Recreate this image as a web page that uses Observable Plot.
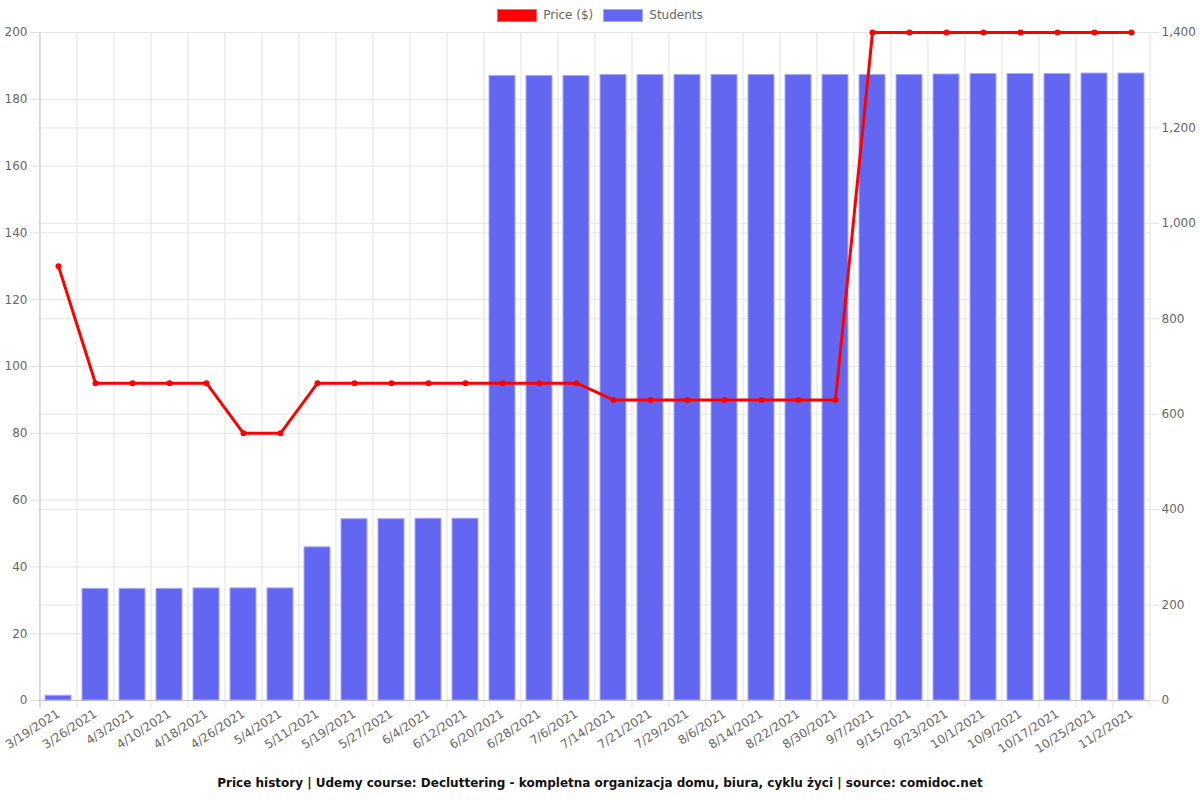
<!DOCTYPE html>
<html><head><meta charset="utf-8">
<script src="https://cdn.jsdelivr.net/npm/d3@7"></script>
<script src="https://cdn.jsdelivr.net/npm/@observablehq/plot@0.6"></script>
<style>
body{margin:0;background:#fff;font-family:"DejaVu Sans",sans-serif;}
#legend{height:24px;display:flex;justify-content:center;align-items:center;font-size:12px;color:#666;padding-top:6px;box-sizing:border-box;}
.item{display:flex;align-items:center;margin:0 5px;}
.box{width:40px;height:13px;margin-right:6px;box-sizing:border-box;}
#caption{height:22px;line-height:22px;text-align:center;font-size:12px;font-weight:bold;color:#111;}
</style></head><body>
<div id="legend"></div>
<div id="chart"></div>
<div id="caption">Price history | Udemy course: Decluttering - kompletna organizacja domu, biura, cyklu życi | source: comidoc.net</div>
<script>
const dates = ["3/19/2021","3/26/2021","4/3/2021","4/10/2021","4/18/2021","4/26/2021","5/4/2021","5/11/2021","5/19/2021","5/27/2021","6/4/2021","6/12/2021","6/20/2021","6/28/2021","7/6/2021","7/14/2021","7/21/2021","7/29/2021","8/6/2021","8/14/2021","8/22/2021","8/30/2021","9/7/2021","9/15/2021","9/23/2021","10/1/2021","10/9/2021","10/17/2021","10/25/2021","11/2/2021"];
const prices = [130,95,95,95,95,80,80,95,95,95,95,95,95,95,95,90,90,90,90,90,90,90,200,200,200,200,200,200,200,200];
const students = [10,234,234,234,235,235,235,321,380,380,381,381,1309,1309,1309,1311,1311,1311,1311,1311,1311,1311,1311,1311,1312,1313,1313,1313,1314,1314];
const leftTicks = [0,20,40,60,80,100,120,140,160,180,200];
const rightTickValues = [0,200,400,600,800,1000,1200,1400];
const seriesNames = ["Price ($)","Students"];
const seriesColors = ["#ff0000","#6366f1"];

const W = 1200, ML = 38, MR = 50, MT = 8, MB = 72, H = 748;
const studentMax = 1400, priceMax = 200;
const toPrice = s => s * priceMax / studentMax;
const data = dates.map((d,i) => ({date:d, price:prices[i], students:students[i]}));
const step = (W - ML - MR) / dates.length;

const legend = document.getElementById("legend");
seriesNames.forEach((n,i) => {
  const it = document.createElement("div"); it.className = "item";
  const b = document.createElement("div"); b.className = "box";
  b.style.background = seriesColors[i];
  b.style.border = "1px solid " + (i === 0 ? "#ff6666" : "#a5a7f7");
  const t = document.createElement("span"); t.textContent = n;
  it.append(b, t); legend.append(it);
});

const chart = Plot.plot({
  width: W, height: H,
  marginLeft: ML, marginRight: MR, marginTop: MT, marginBottom: MB,
  style: {fontFamily: "DejaVu Sans, sans-serif", fontSize: "12px", color: "#666", background: "#fff"},
  x: {type: "band", domain: dates, paddingInner: 0.3, paddingOuter: 0.15},
  y: {domain: [0, priceMax]},
  marks: [
    Plot.gridY(leftTicks, {stroke: "#e6e6e6", strokeOpacity: 1}),
    Plot.gridY(rightTickValues.map(toPrice), {stroke: "#e6e6e6", strokeOpacity: 1}),
    Plot.ruleX(dates, {x: d => d, dx: -step/2, stroke: "#e2e2e2", insetBottom: -8}),
    Plot.ruleX([dates[dates.length-1]], {x: d => d, dx: step/2, stroke: "#e2e2e2", insetBottom: -8}),
    Plot.ruleX([dates[0]], {x: d => d, dx: -step/2, stroke: "#c8c8c8", insetBottom: -8}),
    Plot.ruleY([0], {stroke: "#c0c0c0"}),
    Plot.barY(data, {x: "date", y: d => toPrice(d.students), fill: "#6366f1", stroke: "#a9abf8", strokeWidth: 1}),
    Plot.line(data, {x: "date", y: "price", stroke: "#ff0000", strokeWidth: 3}),
    Plot.dot(data, {x: "date", y: "price", fill: "#ff0000", r: 3}),
    Plot.axisY(leftTicks, {anchor: "left", tickSize: 8, tickPadding: 3, stroke: "#e0e0e0", fill: "#666", label: null, fontSize: 12}),
    Plot.axisY(rightTickValues.map(toPrice), {anchor: "right", tickSize: 8, tickPadding: 3, stroke: "#e0e0e0", fill: "#666", label: null, fontSize: 12,
      tickFormat: v => d3.format(",")(Math.round(v * studentMax / priceMax))}),
    Plot.axisX({tickRotate: -33, tickSize: 0, tickPadding: 12, fill: "#666", label: null, fontSize: 12})
  ]
});
document.getElementById("chart").append(chart);
</script>
</body></html>
